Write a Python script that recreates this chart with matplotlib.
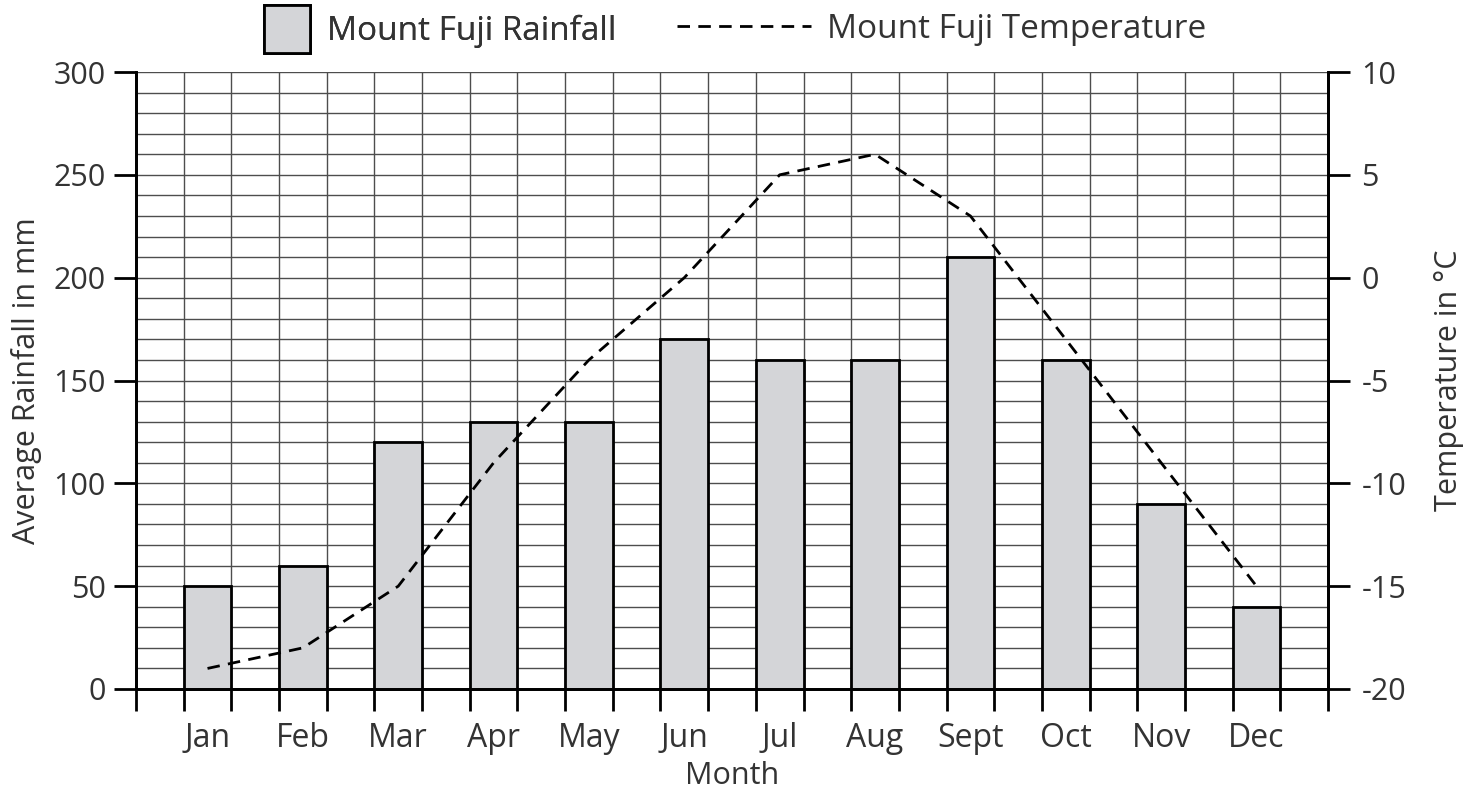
import numpy as np
import matplotlib
matplotlib.use('Agg')
import matplotlib.pyplot as plt
from matplotlib.patches import Patch
from matplotlib.lines import Line2D

# ################## data
months = ['Jan', 'Feb', 'Mar', 'Apr', 'May', 'Jun',
          'Jul', 'Aug', 'Sept', 'Oct', 'Nov', 'Dec']
rainfall = [50, 60, 120, 130, 130, 170, 160, 160, 210, 160, 90, 40]
temperature = [-19, -18, -15, -9, -4, 0, 5, 6, 3, -3, -9, -15]

# ################## style
plt.rcParams['font.family'] = ['Open Sans', 'DejaVu Sans']
plt.rcParams['axes.unicode_minus'] = False
txt = '#333333'
barColor = '#d4d5d8'
gridColor = '#4d4d4d'
fs = 22
dash = (0, (4.5, 3))

fig = plt.figure(figsize=(14.74, 7.89), dpi=100)
ax = fig.add_axes([136 / 1474, 100 / 789, 1192 / 1474, 617 / 789])
ax2 = ax.twinx()

x = np.arange(len(months))
ax.bar(x, rainfall, width=0.5, color=barColor, edgecolor='black', linewidth=2, zorder=3)
ax2.plot(x, temperature, color='black', linestyle=dash, linewidth=2.0, zorder=4)

# ########## left axis (rainfall)
ax.set_xlim(-0.75, 11.75)
ax.set_ylim(0, 300)
ax.set_yticks(np.arange(0, 301, 50))
ax.set_yticks(np.arange(0, 301, 10), minor=True)
ax.set_xticks(np.arange(-0.75, 11.76, 0.5))
ax.set_xticklabels([])
ax.set_xticks(x, minor=True)
ax.set_xticklabels(months, minor=True)
ax.tick_params(axis='x', which='major', length=16, width=2, direction='out')
ax.tick_params(axis='x', which='minor', length=0, pad=24, labelsize=23, labelcolor=txt)
ax.tick_params(axis='y', which='major', length=16, width=2, labelsize=fs, labelcolor=txt, pad=6)
ax.tick_params(axis='y', which='minor', length=0)
ax.grid(True, axis='y', which='both', color=gridColor, linewidth=1.0, zorder=0)
ax.grid(True, axis='x', which='major', color=gridColor, linewidth=1.0, zorder=0)
ax.set_axisbelow(True)
for s in ax.spines.values():
    s.set_linewidth(2)
ax.spines['top'].set_visible(False)
ax.set_ylabel('Average Rainfall in mm', fontsize=fs, color=txt, labelpad=8)
ax.set_xlabel('Month', fontsize=fs, color=txt, labelpad=4)

# ########## right axis (temperature)
ax2.set_ylim(-20, 10)
ax2.set_yticks(np.arange(-20, 11, 5))
ax2.tick_params(axis='y', length=16, width=2, labelsize=fs, labelcolor=txt, pad=8)
for s in ax2.spines.values():
    s.set_linewidth(2)
ax2.spines['top'].set_visible(False)
ax2.set_ylabel('Temperature in °C', fontsize=fs, color=txt, labelpad=20)

# ########## legend along the top
h1 = Patch(facecolor=barColor, edgecolor='black', linewidth=2, label='Mount Fuji Rainfall')
h2 = Line2D([], [], color='black', linestyle=dash, linewidth=2.0,
            label='Mount Fuji Temperature')
leg1 = fig.legend(handles=[h1], loc='center', bbox_to_anchor=(440 / 1474, 1 - 29 / 789),
                  frameon=False, fontsize=24, handlelength=1.4, handleheight=1.8,
                  handletextpad=0.5, labelcolor=txt)
fig.add_artist(leg1)
fig.legend(handles=[h2], loc='center', bbox_to_anchor=(942 / 1474, 1 - 29 / 789),
           frameon=False, fontsize=24, handlelength=4.0, handletextpad=0.5, labelcolor=txt)

fig.savefig('out.png', dpi=100)
